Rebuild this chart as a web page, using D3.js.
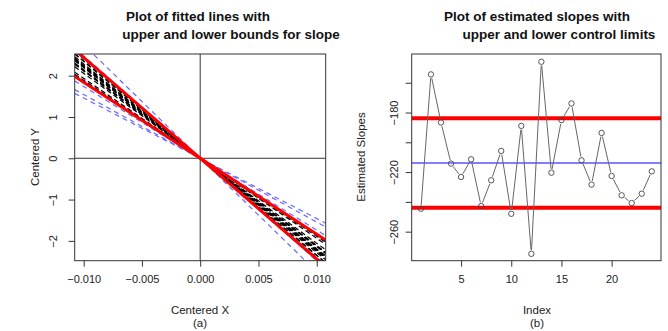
<!DOCTYPE html>
<html>
<head>
<meta charset="utf-8">
<script src="https://cdn.jsdelivr.net/npm/d3@7"></script>
<style>
  body { margin: 0; background: #fff; }
  svg { font-family: "Liberation Sans", Arial, sans-serif; }
</style>
</head>
<body>
<div id="chart"></div>
<script>
// Estimated slopes, index 1..24
const slopeIndex = d3.range(1, 25);
const slopeValues = [-244.6, -154.4, -186.7, -214.3, -223.3, -211.4, -242.8, -225.5,
  -205.8, -248.0, -189.0, -274.9, -145.9, -220.4, -185.1, -173.9,
  -212.1, -228.4, -193.7, -222.6, -235.6, -240.8, -234.5, -219.5];
const centerLine = -213.9;
const controlLimits = [-183.9, -243.9];

// tick labels
const xTicksA = [-0.010, -0.005, 0, 0.005, 0.010];
const yTicksA = [-2, -1, 0, 1, 2];
const xTicksB = [5, 10, 15, 20];
const yTicksB = [-260, -240, -220, -200, -180, -160];
const yLabelsB = [-260, -220, -180];

const width = 668, height = 331;
const svg = d3.select("#chart").append("svg")
  .attr("width", width)
  .attr("height", height);

const boxColor = "#333";

// ---------- Panel (a) ----------
const xA = d3.scaleLinear().domain([-0.01077, 0.01077]).range([74.7, 325.7]);
const yA = d3.scaleLinear().domain([-2.48, 2.525]).range([260.7, 54]);

svg.append("clipPath").attr("id", "clipA")
  .append("rect")
  .attr("x", xA.range()[0]).attr("y", yA.range()[1])
  .attr("width", xA.range()[1] - xA.range()[0])
  .attr("height", yA.range()[0] - yA.range()[1]);

const plotA = svg.append("g").attr("clip-path", "url(#clipA)");
const xEnds = xA.domain();
const inside = d => d <= controlLimits[0] && d >= controlLimits[1];

// fitted lines within limits (black dashed)
plotA.selectAll(".fitBlack")
  .data(slopeValues.filter(inside))
  .enter().append("line")
  .attr("x1", xA(xEnds[0])).attr("y1", d => yA(d * xEnds[0]))
  .attr("x2", xA(xEnds[1])).attr("y2", d => yA(d * xEnds[1]))
  .attr("stroke", "#000")
  .attr("stroke-width", 1.2)
  .attr("stroke-dasharray", "5,3");

// fitted lines outside limits (blue dashed)
plotA.selectAll(".fitBlue")
  .data(slopeValues.filter(d => !inside(d)))
  .enter().append("line")
  .attr("x1", xA(xEnds[0])).attr("y1", d => yA(d * xEnds[0]))
  .attr("x2", xA(xEnds[1])).attr("y2", d => yA(d * xEnds[1]))
  .attr("stroke", "#6a6aff")
  .attr("stroke-width", 1.2)
  .attr("stroke-dasharray", "5,4");

// reference axes through origin
plotA.append("line")
  .attr("x1", xA(0)).attr("x2", xA(0))
  .attr("y1", yA.range()[0]).attr("y2", yA.range()[1])
  .attr("stroke", boxColor);
plotA.append("line")
  .attr("x1", xA.range()[0]).attr("x2", xA.range()[1])
  .attr("y1", yA(0)).attr("y2", yA(0))
  .attr("stroke", boxColor);

// bound lines (red)
plotA.selectAll(".bound")
  .data(controlLimits)
  .enter().append("line")
  .attr("x1", xA(xEnds[0])).attr("y1", d => yA(d * xEnds[0]))
  .attr("x2", xA(xEnds[1])).attr("y2", d => yA(d * xEnds[1]))
  .attr("stroke", "#ff0000")
  .attr("stroke-width", 3);

// box
svg.append("rect")
  .attr("x", xA.range()[0]).attr("y", yA.range()[1])
  .attr("width", xA.range()[1] - xA.range()[0])
  .attr("height", yA.range()[0] - yA.range()[1])
  .attr("fill", "none").attr("stroke", boxColor);

// axes
svg.append("g")
  .attr("transform", `translate(0, ${yA.range()[0]})`)
  .call(d3.axisBottom(xA).tickValues(xTicksA).tickSize(6).tickPadding(9).tickFormat(d3.format(".3f")));
const axA_y = svg.append("g")
  .attr("transform", `translate(${xA.range()[0]}, 0)`)
  .call(d3.axisLeft(yA).tickValues(yTicksA).tickSize(6).tickFormat(d3.format("d")));
axA_y.selectAll(".tick text")
  .attr("transform", "rotate(-90)")
  .attr("x", 0).attr("y", -22)
  .attr("dy", "0.35em")
  .attr("text-anchor", "middle");

// ---------- Panel (b) ----------
const xB = d3.scaleLinear().domain([0.08, 24.92]).range([411.7, 661]);
const yB = d3.scaleLinear().domain([-279.5, -140.7]).range([260.7, 54]);

svg.append("clipPath").attr("id", "clipB")
  .append("rect")
  .attr("x", xB.range()[0]).attr("y", yB.range()[1])
  .attr("width", xB.range()[1] - xB.range()[0])
  .attr("height", yB.range()[0] - yB.range()[1]);
const plotB = svg.append("g").attr("clip-path", "url(#clipB)");

// control limits
plotB.selectAll(".limit")
  .data(controlLimits)
  .enter().append("line")
  .attr("x1", xB.range()[0]).attr("x2", xB.range()[1])
  .attr("y1", d => yB(d)).attr("y2", d => yB(d))
  .attr("stroke", "#ff0000")
  .attr("stroke-width", 4);
plotB.append("line")
  .attr("x1", xB.range()[0]).attr("x2", xB.range()[1])
  .attr("y1", yB(centerLine)).attr("y2", yB(centerLine))
  .attr("stroke", "#0000ff")
  .attr("stroke-width", 1);

// type "b": segments with gaps at the points
const pts = slopeIndex.map((d, i) => [xB(d), yB(slopeValues[i])]);
const gap = 3.8;
const segs = d3.pairs(pts).map(([a, b]) => {
  const dx = b[0] - a[0], dy = b[1] - a[1];
  const len = Math.hypot(dx, dy);
  const ux = dx / len, uy = dy / len;
  return { x1: a[0] + ux * gap, y1: a[1] + uy * gap, x2: b[0] - ux * gap, y2: b[1] - uy * gap, len };
}).filter(s => s.len > gap * 2);

plotB.selectAll(".seg")
  .data(segs)
  .enter().append("line")
  .attr("x1", d => d.x1).attr("y1", d => d.y1)
  .attr("x2", d => d.x2).attr("y2", d => d.y2)
  .attr("stroke", "#666")
  .attr("stroke-width", 1);

plotB.selectAll(".pt")
  .data(slopeValues)
  .enter().append("circle")
  .attr("cx", (d, i) => xB(slopeIndex[i]))
  .attr("cy", d => yB(d))
  .attr("r", 2.7)
  .attr("fill", "none")
  .attr("stroke", "#444")
  .attr("stroke-width", 0.9);

svg.append("rect")
  .attr("x", xB.range()[0]).attr("y", yB.range()[1])
  .attr("width", xB.range()[1] - xB.range()[0])
  .attr("height", yB.range()[0] - yB.range()[1])
  .attr("fill", "none").attr("stroke", boxColor);

svg.append("g")
  .attr("transform", `translate(0, ${yB.range()[0]})`)
  .call(d3.axisBottom(xB).tickValues(xTicksB).tickSize(6).tickPadding(9));
const axB_y = svg.append("g")
  .attr("transform", `translate(${xB.range()[0]}, 0)`)
  .call(d3.axisLeft(yB).tickValues(yTicksB).tickSize(6)
    .tickFormat(d => yLabelsB.includes(d) ? d3.format("d")(d) : ""));
axB_y.selectAll(".tick text")
  .attr("transform", "rotate(-90)")
  .attr("x", 0).attr("y", -18)
  .attr("dy", "0.35em")
  .attr("text-anchor", "middle");

// axis styling
svg.selectAll(".domain").remove();
svg.selectAll(".tick line").attr("stroke", boxColor);
svg.selectAll(".tick text")
  .attr("font-size", "11px")
  .attr("fill", "#222")
  .attr("font-family", "Liberation Sans, Arial, sans-serif");

// ---------- Titles and labels ----------
const titles = [
  { text: "Plot of fitted lines with", x: 198, y: 21 },
  { text: "upper and lower bounds for slope", x: 231, y: 39 },
  { text: "Plot of estimated slopes with", x: 537, y: 21 },
  { text: "upper and lower control limits", x: 559, y: 39 }
];
svg.selectAll(".title")
  .data(titles)
  .enter().append("text")
  .attr("x", d => d.x).attr("y", d => d.y)
  .attr("text-anchor", "middle")
  .attr("font-size", "13.5px")
  .attr("font-weight", "bold")
  .attr("fill", "#111")
  .text(d => d.text);

const labels = [
  { text: "Centered X", x: 200, y: 314 },
  { text: "(a)", x: 200, y: 327 },
  { text: "Index", x: 537, y: 314 },
  { text: "(b)", x: 537, y: 327 }
];
svg.selectAll(".lab")
  .data(labels)
  .enter().append("text")
  .attr("x", d => d.x).attr("y", d => d.y)
  .attr("text-anchor", "middle")
  .attr("font-size", "11.5px")
  .attr("fill", "#222")
  .text(d => d.text);

svg.append("text")
  .attr("transform", "translate(39, 157) rotate(-90)")
  .attr("text-anchor", "middle")
  .attr("font-size", "11.5px")
  .attr("fill", "#222")
  .text("Centered Y");
svg.append("text")
  .attr("transform", "translate(365, 157) rotate(-90)")
  .attr("text-anchor", "middle")
  .attr("font-size", "11.5px")
  .attr("fill", "#222")
  .text("Estimated Slopes");
</script>
</body>
</html>
